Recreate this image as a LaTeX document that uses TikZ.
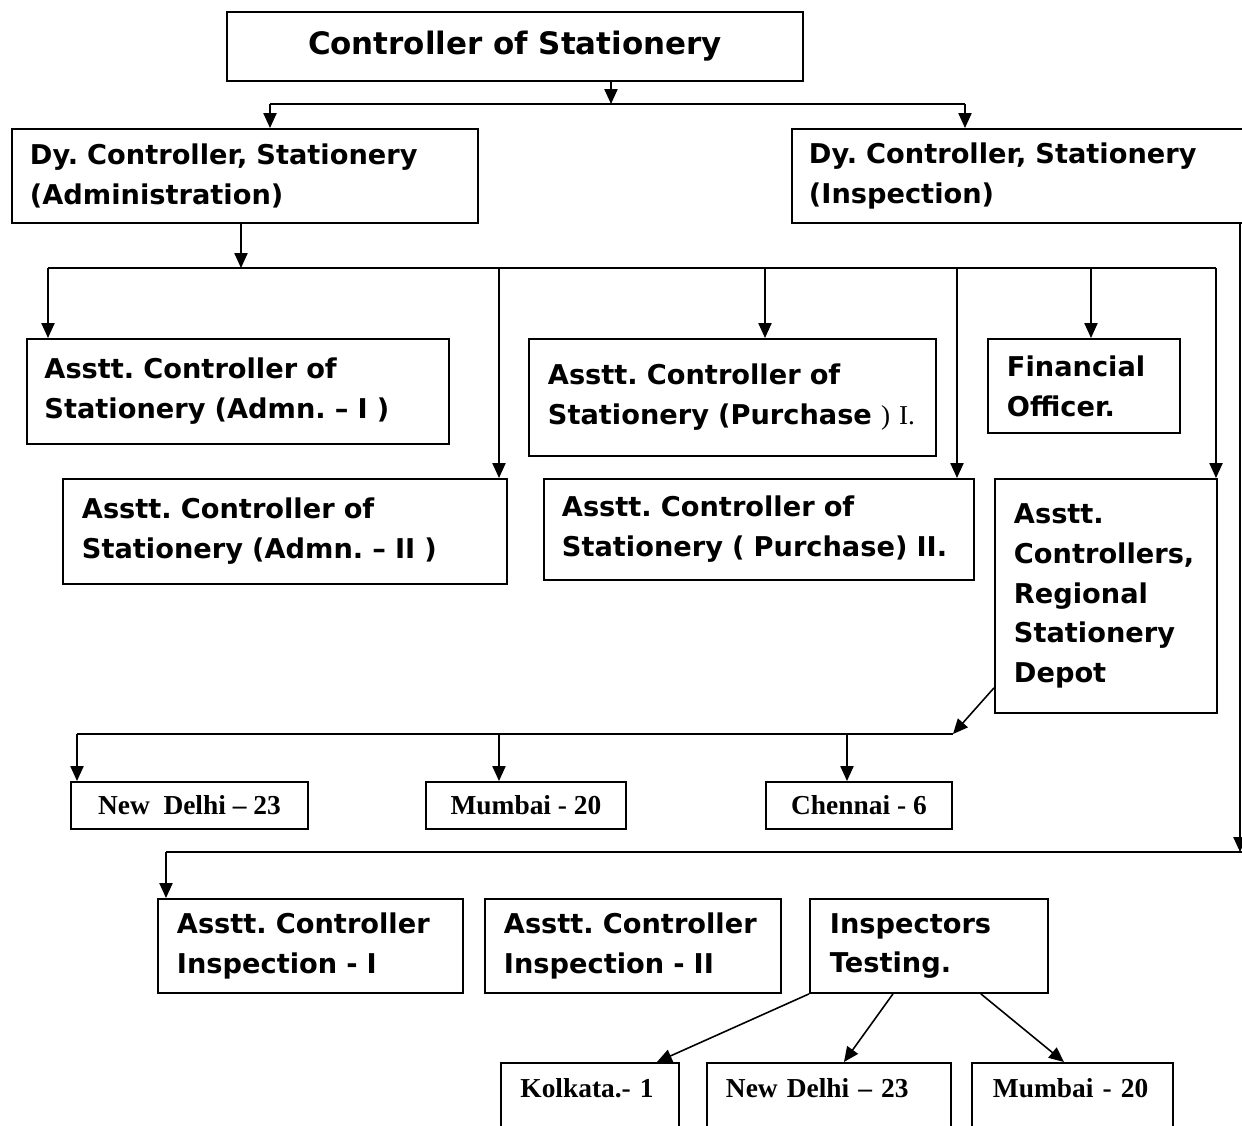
\documentclass[tikz,border=0pt]{standalone}
\usepackage{fontspec}
\usetikzlibrary{arrows.meta}
\newfontfamily\hdfont[Ligatures=TeX]{DejaVu Sans}
\newfontfamily\cityfont[Ligatures=TeX]{Liberation Serif}
\frenchspacing
\tikzset{
  box/.style={draw, line width=1.1pt, anchor=north west, align=left, inner ysep=0pt,
    inner xsep=0.38cm, font=\hdfont\bfseries\fontsize{15.5}{22.7}\selectfont},
  city/.style={draw, line width=1.1pt, anchor=north west, inner ysep=0pt,
    font=\cityfont\bfseries\fontsize{15.6}{19}\selectfont},
  low/.style={city, align=left, text height=0.7cm, text depth=0.86cm},
  link/.style={line width=0.9pt}
}
\begin{document}
\begin{tikzpicture}[x=0.02cm, y=-0.02cm, >={Triangle[length=8.5pt,width=7.5pt]}]
\useasboundingbox (0,0) rectangle (1242,1126);
\clip (0,0) rectangle (1242,1126);
% head and deputies
\node[box, align=center, minimum width=11.52cm, minimum height=1.38cm,
  font=\hdfont\bfseries\fontsize{17.6}{21}\selectfont] (ctrl) at (226,11) {Controller of Stationery};
\node[box, minimum width=9.32cm, minimum height=1.88cm, inner xsep=0.36cm, text width=8.6cm]
  (dyadm) at (11,128) {Dy. Controller, Stationery\\(Administration)};
\node[box, minimum width=9.22cm, minimum height=1.88cm, inner xsep=0.34cm, text width=8.54cm]
  (dyins) at (791,128) {Dy. Controller, Stationery\\(Inspection)};
% administration side
\node[box, minimum width=8.44cm, minimum height=2.1cm, inner xsep=0.35cm, text width=7.74cm]
  (admI) at (26,338) {Asstt. Controller of\\Stationery (Admn. -- I )};
\node[box, minimum width=8.88cm, minimum height=2.1cm, text width=8.12cm]
  (admII) at (62,478) {Asstt. Controller of\\Stationery (Admn. -- II )};
\node[box, minimum width=8.14cm, minimum height=2.34cm, text width=7.38cm]
  (purI) at (528,338) {Asstt. Controller of\\Stationery (Purchase {\cityfont\mdseries) I.}};
\node[box, minimum width=8.6cm, minimum height=2.02cm, inner xsep=0.36cm, text width=7.88cm]
  (purII) at (543,478) {Asstt. Controller of\\Stationery ( Purchase) II.};
\node[box, minimum width=3.84cm, minimum height=1.88cm, text width=3.08cm]
  (fin) at (987,338) {Financial\\Officer.};
\node[box, minimum width=4.44cm, minimum height=4.68cm, text width=3.68cm]
  (rsd) at (994,478) {Asstt.\\Controllers,\\Regional\\Stationery\\Depot};
\node[city, minimum width=4.74cm, minimum height=0.94cm] (delhiA) at (70,781) {New~~Delhi -- 23};
\node[city, minimum width=4cm, minimum height=0.94cm] (mumbaiA) at (425,781) {Mumbai - 20};
\node[city, minimum width=3.72cm, minimum height=0.94cm] (chennai) at (765,781) {Chennai - 6};
% inspection side
\node[box, minimum width=6.1cm, minimum height=1.88cm, text width=5.34cm]
  (insI) at (157,898) {Asstt. Controller\\Inspection - I};
\node[box, minimum width=5.92cm, minimum height=1.88cm, text width=5.16cm]
  (insII) at (484,898) {Asstt. Controller\\Inspection - II};
\node[box, minimum width=4.76cm, minimum height=1.88cm, inner xsep=0.4cm, text width=3.96cm]
  (testing) at (809,898) {Inspectors\\Testing.};
\node[low, minimum width=3.56cm, inner xsep=0.39cm, text width=2.78cm] (kolkata) at (500,1062) {Kolkata.- 1};
\node[low, minimum width=4.88cm, inner xsep=0.38cm, text width=4.12cm] (delhiB) at (706,1062) {New Delhi -- 23};
\node[low, minimum width=4.02cm, inner xsep=0.42cm, text width=3.18cm] (mumbaiB) at (971,1062) {Mumbai - 20};

% connectors
\coordinate (t0) at (611,104);
\coordinate (t1) at (270,104);
\coordinate (t2) at (965,104);
\draw[link,->] (ctrl.south -| t0) -- (t0);
\draw[link] (t1) -- (t2);
\draw[link,->] (t1) -- (t1 |- dyadm.north);
\draw[link,->] (t2) -- (t2 |- dyins.north);

\coordinate (a0) at (241,268);
\draw[link,->] (dyadm.south -| a0) -- (a0);
\draw[link] (48,268) -- (1216,268);
\foreach \x/\n in {48/admI, 499/admII, 765/purI, 957/purII, 1091/fin, 1216/rsd}{
  \coordinate (s) at (\x,268);
  \draw[link,->] (s) -- (s |- \n.north);
}

\coordinate (r0) at (953,734);
\coordinate (r1) at (77,734);
\draw[link,->] ([yshift=0.52cm]rsd.south west) -- (r0);
\draw[link] (r1) -- (r0);
\foreach \x/\n in {77/delhiA, 499/mumbaiA, 847/chennai}{
  \coordinate (s) at (\x,734);
  \draw[link,->] (s) -- (s |- \n.north);
}

\coordinate (i0) at (1240,852);
\coordinate (i1) at (166,852);
\draw[link,->] (dyins.south -| i0) -- (i0);
\draw[link] (i1) -- (1250,852);
\draw[link,->] (i1) -- (i1 |- insI.north);

\draw[link,->] (testing.south west) -- ([xshift=1.34cm]kolkata.north);
\draw[link,->] ([xshift=-0.72cm]testing.south) -- ([xshift=0.3cm]delhiB.north);
\draw[link,->] ([xshift=1.04cm]testing.south) -- ([xshift=-0.17cm]mumbaiB.north);
\end{tikzpicture}
\end{document}
